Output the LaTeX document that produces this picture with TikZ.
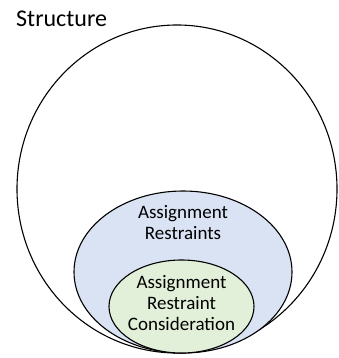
\documentclass[tikz,border=0pt]{standalone}
\usepackage{fontspec}
\setmainfont{Carlito}
\usepackage{xcolor}
\definecolor{setblue}{RGB}{218,227,243}
\definecolor{setgreen}{RGB}{226,240,217}
\usetikzlibrary{positioning}

\begin{document}
\begin{tikzpicture}[x=1pt, y=-1pt,
  setline/.style={draw=black, line width=1.1pt},
  label/.style={font=\fontsize{19}{21}\selectfont, align=center, inner sep=0pt, text=black}
]
\useasboundingbox (0,0) rectangle (338,358);

% Nested sets
\draw[setline, fill=white]    (177,189)   ellipse [x radius=160,  y radius=164];
\draw[setline, fill=setblue]  (183,272)   ellipse [x radius=109,  y radius=81];
\draw[setline, fill=setgreen] (181.5,306.5) ellipse [x radius=72.5, y radius=46.5];

% Labels
\node[font=\fontsize{24}{28}\selectfont, anchor=base west, inner sep=0pt] (structure) at (16,27) {Structure};
\node[label] (restraints)    at (183,222.5) {Assignment\\Restraints};
\node[label] (consideration) at (181.5,303) {Assignment\\Restraint\\Consideration};
\end{tikzpicture}
\end{document}
